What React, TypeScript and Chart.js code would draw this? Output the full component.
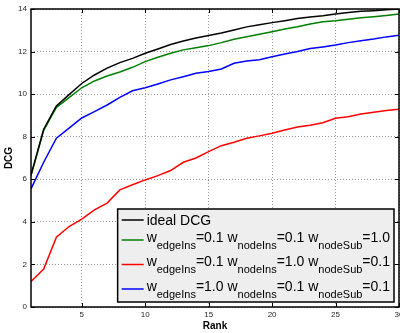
import React, { useEffect, useRef } from "react";
import { Chart, registerables } from "chart.js";

Chart.register(...registerables);

const ranks = [1, 2, 3, 4, 5, 6, 7, 8, 9, 10, 11, 12, 13, 14, 15, 16, 17, 18, 19, 20, 21, 22, 23, 24, 25, 26, 27, 28, 29, 30];

const idealDCG = [6.2, 8.35, 9.45, 9.98, 10.5, 10.9, 11.22, 11.48, 11.68, 11.92, 12.12, 12.33, 12.5, 12.64, 12.75, 12.87, 13.01, 13.16, 13.26, 13.36, 13.45, 13.55, 13.62, 13.68, 13.77, 13.83, 13.89, 13.92, 13.96, 14.0];

const greenDCG = [6.18, 8.3, 9.38, 9.84, 10.3, 10.62, 10.85, 11.04, 11.26, 11.53, 11.73, 11.92, 12.08, 12.18, 12.28, 12.42, 12.58, 12.7, 12.81, 12.93, 13.06, 13.17, 13.3, 13.4, 13.45, 13.52, 13.59, 13.64, 13.7, 13.77];

const redDCG = [1.2, 1.78, 3.28, 3.78, 4.13, 4.56, 4.88, 5.5, 5.74, 5.97, 6.17, 6.41, 6.8, 7.0, 7.3, 7.58, 7.74, 7.93, 8.04, 8.16, 8.32, 8.46, 8.54, 8.66, 8.87, 8.94, 9.07, 9.15, 9.23, 9.29];

const blueDCG = [5.55, 6.8, 7.93, 8.4, 8.88, 9.18, 9.49, 9.85, 10.16, 10.3, 10.48, 10.67, 10.82, 10.98, 11.06, 11.18, 11.45, 11.56, 11.62, 11.76, 11.89, 12.0, 12.14, 12.22, 12.31, 12.42, 12.51, 12.59, 12.69, 12.77];

const xTicks = [5, 10, 15, 20, 25, 30];
const yTicks = [0, 2, 4, 6, 8, 10, 12, 14];

const seriesLabels = [
  "ideal DCG",
  "w_{edgeIns}=0.1 w_{nodeIns}=0.1 w_{nodeSub}=1.0",
  "w_{edgeIns}=0.1 w_{nodeIns}=1.0 w_{nodeSub}=0.1",
  "w_{edgeIns}=1.0 w_{nodeIns}=0.1 w_{nodeSub}=0.1",
];
const seriesColors = ["#000000", "#008000", "#ff0000", "#0000ff"];

const FONT = "'Liberation Sans', Arial, Helvetica, sans-serif";

function parseLabel(s: string) {
  const parts: { t: string; sub: boolean }[] = [];
  const re = /_\{([^}]*)\}/g;
  let last = 0;
  let m: RegExpExecArray | null;
  while ((m = re.exec(s))) {
    if (m.index > last) parts.push({ t: s.slice(last, m.index), sub: false });
    parts.push({ t: m[1], sub: true });
    last = m.index + m[0].length;
  }
  if (last < s.length) parts.push({ t: s.slice(last), sub: false });
  return parts;
}

const framePlugin = {
  id: "frameAndLegend",
  afterDatasetsDraw(chart: any) {
    const { ctx, chartArea, scales } = chart;
    const { left, right, top, bottom } = chartArea;
    ctx.save();
    // inward tick marks
    ctx.strokeStyle = "#000";
    ctx.lineWidth = 1;
    ctx.beginPath();
    xTicks.forEach((v) => {
      const px = Math.round(scales.x.getPixelForValue(v)) + 0.5;
      ctx.moveTo(px, bottom);
      ctx.lineTo(px, bottom - 4);
      ctx.moveTo(px, top);
      ctx.lineTo(px, top + 4);
    });
    yTicks.forEach((v) => {
      const py = Math.round(scales.y.getPixelForValue(v)) + 0.5;
      ctx.moveTo(left, py);
      ctx.lineTo(left + 4, py);
      ctx.moveTo(right, py);
      ctx.lineTo(right - 4, py);
    });
    ctx.stroke();
    // frame
    ctx.lineWidth = 1.5;
    ctx.strokeRect(left, top, right - left, bottom - top);

    // legend
    const mainFont = `14px ${FONT}`;
    const subFont = `11px ${FONT}`;
    const parsed = seriesLabels.map(parseLabel);
    const widths = parsed.map((parts) =>
      parts.reduce((acc, p) => {
        ctx.font = p.sub ? subFont : mainFont;
        return acc + ctx.measureText(p.t).width;
      }, 0)
    );
    const maxW = Math.max(...widths);
    const boxW = 29 + maxW + 4;
    const boxH = 93;
    const bx = right - 5 - boxW;
    const by = bottom - 5 - boxH;
    ctx.fillStyle = "#eeeeee";
    ctx.fillRect(bx, by, boxW, boxH);
    ctx.strokeStyle = "#000";
    ctx.lineWidth = 1.5;
    ctx.strokeRect(bx, by, boxW, boxH);

    const rowY = [11, 31, 55.5, 80];
    parsed.forEach((parts, i) => {
      const ly = by + rowY[i];
      ctx.strokeStyle = seriesColors[i];
      ctx.lineWidth = 1.5;
      ctx.beginPath();
      ctx.moveTo(bx + 4, ly);
      ctx.lineTo(bx + 26, ly);
      ctx.stroke();
      const hasSub = parts.some((p) => p.sub);
      const baseline = hasSub ? ly + 1.5 : ly + 4.5;
      let x = bx + 29;
      ctx.fillStyle = "#000";
      ctx.textBaseline = "alphabetic";
      ctx.textAlign = "left";
      parts.forEach((p) => {
        ctx.font = p.sub ? subFont : mainFont;
        ctx.fillText(p.t, x, p.sub ? baseline + 7 : baseline);
        x += ctx.measureText(p.t).width;
      });
    });
    ctx.restore();
  },
};

export default function App() {
  const ref = useRef<HTMLCanvasElement | null>(null);

  useEffect(() => {
    if (!ref.current) return;
    const makeDs = (label: string, data: number[], color: string) => ({
      label,
      data: ranks.map((r, i) => ({ x: r, y: data[i] })),
      borderColor: color,
      backgroundColor: color,
      borderWidth: 1.5,
      pointRadius: 0,
      tension: 0,
      fill: false,
    });
    const chart = new Chart(ref.current, {
      type: "line",
      data: {
        datasets: [
          makeDs(seriesLabels[0], idealDCG, seriesColors[0]),
          makeDs(seriesLabels[1], greenDCG, seriesColors[1]),
          makeDs(seriesLabels[2], redDCG, seriesColors[2]),
          makeDs(seriesLabels[3], blueDCG, seriesColors[3]),
        ],
      },
      options: {
        animation: false,
        responsive: false,
        devicePixelRatio: 1,
        layout: { padding: { top: 9, right: 1, left: 0, bottom: 0 } },
        plugins: { legend: { display: false }, tooltip: { enabled: false } },
        scales: {
          x: {
            type: "linear",
            min: 1,
            max: 30,
            afterBuildTicks: (scale: any) => {
              scale.ticks = xTicks.map((v) => ({ value: v }));
            },
            afterFit: (scale: any) => {
              scale.height = 26;
              scale.paddingLeft = 0;
              scale.paddingRight = 0;
            },
            grid: { color: "#9a9a9a", lineWidth: 1, drawTicks: false },
            border: { display: false, dash: [1, 2] },
            ticks: {
              padding: 3,
              color: "#262626",
              maxRotation: 0,
              font: { family: FONT, size: 8 },
            },
            title: {
              display: true,
              text: "Rank",
              color: "#000",
              font: { family: FONT, size: 10, weight: "bold" },
              padding: { top: 0, bottom: 1 },
            },
          },
          y: {
            type: "linear",
            min: 0,
            max: 14,
            afterBuildTicks: (scale: any) => {
              scale.ticks = yTicks.map((v) => ({ value: v }));
            },
            afterFit: (scale: any) => {
              scale.width = 31;
              scale.paddingTop = 0;
              scale.paddingBottom = 0;
            },
            grid: { color: "#9a9a9a", lineWidth: 1, drawTicks: false },
            border: { display: false, dash: [1, 2] },
            ticks: {
              padding: 4,
              color: "#262626",
              font: { family: FONT, size: 8 },
            },
            title: {
              display: true,
              text: "DCG",
              color: "#000",
              font: { family: FONT, size: 10, weight: "bold" },
              padding: { top: 3, bottom: 0 },
            },
          },
        },
      },
      plugins: [framePlugin],
    } as any);
    return () => chart.destroy();
  }, []);

  return (
    <div style={{ position: "absolute", left: 0, top: 0, width: 400, height: 333, overflow: "hidden", background: "#fff" }}>
      <canvas ref={ref} width={400} height={333} style={{ display: "block" }} />
    </div>
  );
}
